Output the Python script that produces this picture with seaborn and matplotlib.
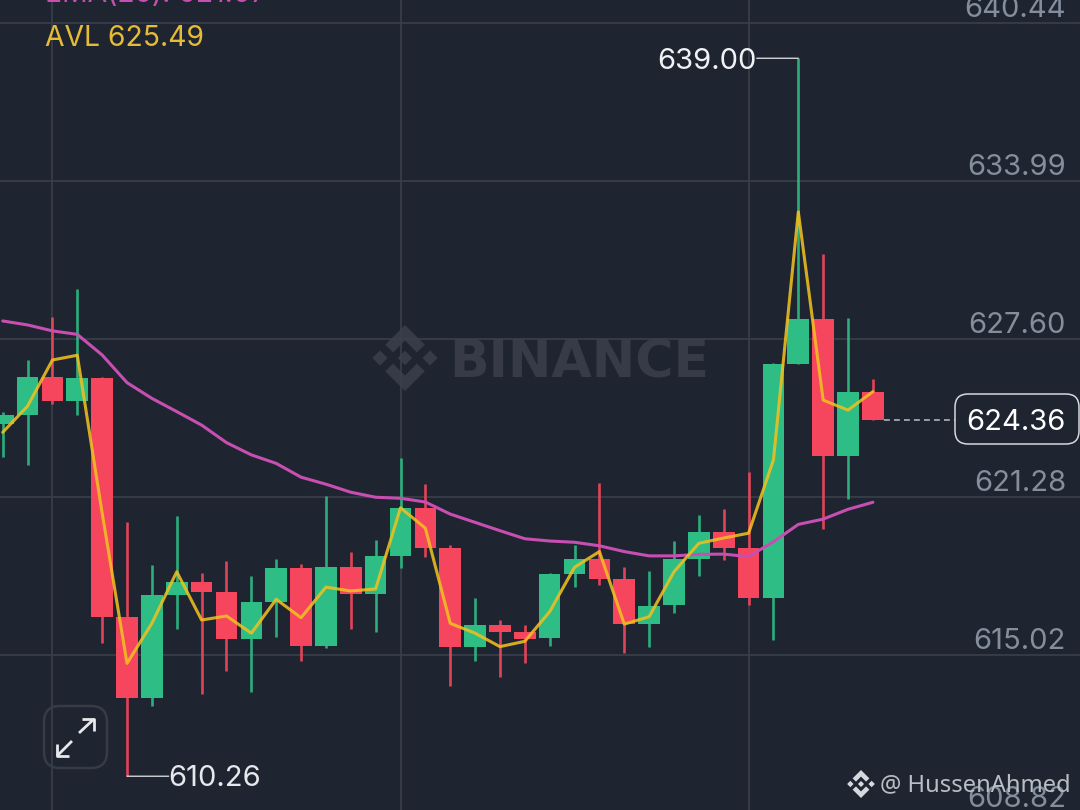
import numpy as np
import pandas as pd
import seaborn as sns
import matplotlib
matplotlib.use("Agg")
import matplotlib.pyplot as plt
from matplotlib.patches import FancyBboxPatch, Polygon
from matplotlib.transforms import Affine2D

# candle values
opens = [624.19, 624.57, 626.06, 625.13, 626.04, 616.53, 613.33, 617.39, 617.89, 617.49, 615.64, 617.10,
         618.45, 615.38, 618.49, 617.43, 618.92, 620.83, 619.24, 615.34, 616.19, 615.91, 615.68, 618.22,
         618.83, 618.02, 616.23, 616.98, 618.81, 619.88, 619.26, 617.28, 626.58, 628.41, 622.91, 625.48]
closes = [624.56, 626.06, 625.13, 626.04, 616.53, 613.33, 617.39, 617.89, 617.50, 615.64, 617.10, 618.45,
          615.38, 618.49, 617.43, 618.92, 620.83, 619.25, 615.34, 616.19, 615.91, 615.65, 618.22, 618.83,
          618.03, 616.23, 616.95, 618.81, 619.88, 619.26, 617.28, 626.58, 628.41, 622.91, 625.48, 624.36]
highs = [624.67, 626.76, 628.49, 629.62, 626.08, 620.28, 618.58, 620.53, 618.26, 618.75, 618.14, 618.83,
         618.62, 621.30, 619.09, 619.57, 622.85, 621.80, 619.36, 617.26, 616.39, 616.20, 618.27, 619.37,
         621.83, 618.50, 618.35, 619.54, 620.57, 620.79, 622.27, 626.65, 639.00, 631.02, 628.46, 626.01]
lows = [622.87, 622.55, 625.00, 624.56, 615.49, 610.26, 613.02, 616.04, 613.49, 614.39, 613.58, 615.74,
        614.80, 615.28, 616.04, 615.93, 618.45, 618.90, 613.80, 614.80, 614.16, 614.72, 615.38, 617.72,
        617.78, 615.11, 615.32, 616.69, 618.15, 618.79, 617.00, 615.61, 626.58, 620.00, 621.20, 624.36]
avl = [623.86, 624.91, 626.76, 626.95, 620.64, 614.69, 616.27, 618.31, 616.40, 616.56, 615.88, 617.22,
       616.49, 617.70, 617.55, 617.63, 620.85, 620.04, 616.27, 615.88, 615.35, 615.56, 616.73, 618.49,
       619.11, 616.24, 616.53, 618.31, 619.44, 619.65, 619.84, 622.76, 632.74, 625.15, 624.75, 625.49]
ema = [628.33, 628.17, 627.93, 627.79, 626.96, 625.85, 625.22, 624.69, 624.15, 623.45, 622.96, 622.62,
       622.07, 621.79, 621.47, 621.27, 621.23, 621.08, 620.60, 620.27, 619.94, 619.62, 619.53, 619.48,
       619.34, 619.11, 618.94, 618.94, 619.00, 619.01, 618.91, 619.50, 620.19, 620.40, 620.79, 621.07]
price_ticks = [640.44, 633.99, 627.60, 621.28, 615.02, 608.82]
time_ticks = [2, 16, 30]

BG = "#1e2530"
GRID = "#3a3f4a"
GREEN = "#2ebd85"
RED = "#f6465d"
YELLOW = "#f0c020"
MAGENTA = "#c84fb2"
TICK = "#848e9c"
MARK = "#363b47"

sns.set_theme(style="dark", rc={"axes.facecolor": BG, "figure.facecolor": BG})
plt.rcParams["font.family"] = ["Inter", "DejaVu Sans"]

df = pd.DataFrame({"i": range(len(opens)), "open": opens, "close": closes, "high": highs,
                   "low": lows, "avl": avl, "ema": ema})
df["up"] = df["close"] >= df["open"]
df["color"] = np.where(df["up"], GREEN, RED)
df["top"] = df[["open", "close"]].max(axis=1)
df["bot"] = df[["open", "close"]].min(axis=1)

fig = plt.figure(figsize=(10.8, 8.1), dpi=100)
ax = fig.add_axes([0, 0, 1, 1])
ax.set_yscale("log")

# pixel coords from top left, for the bits that sit on the screen and not on the chart
px = Affine2D().scale(1, -1).translate(0, 810)


def draw_logo(cx, cy, r, color, z):
    shapes = [
        [(0, .22), (.22, 0), (0, -.22), (-.22, 0)],
        [(-.76, .23), (-.53, 0), (-.76, -.23), (-.99, 0)],
        [(.76, .23), (.99, 0), (.76, -.23), (.53, 0)],
        [(0, 1), (.6, .4), (.36, .17), (0, .53), (-.36, .17), (-.6, .4)],
        [(0, -1), (.6, -.4), (.36, -.17), (0, -.53), (-.36, -.17), (-.6, -.4)],
    ]
    for s in shapes:
        pts = [(cx + a * r, cy - b * r) for a, b in s]
        ax.add_patch(Polygon(pts, closed=True, fc=color, ec="none", transform=px, zorder=z))


# watermark
draw_logo(405, 358, 33, MARK, 0.4)
ax.text(449, 364, "BINANCE", transform=px, family="DejaVu Sans", fontweight="bold", fontsize=37.5,
        color=MARK, va="center", ha="left", zorder=0.4)

# candles
ax.vlines(df["i"], df["low"], df["high"], colors=df["color"], linewidth=1.9, alpha=0.9, zorder=2)
ax.bar(df["i"], df["top"] - df["bot"], bottom=df["bot"], width=0.87, color=df["color"], linewidth=0, zorder=3)

sns.lineplot(data=df, x="i", y="ema", color=MAGENTA, linewidth=2.2, ax=ax, zorder=4, errorbar=None)
sns.lineplot(data=df, x="i", y="avl", color=YELLOW, linewidth=2.2, alpha=0.88, ax=ax, zorder=5, errorbar=None)

ax.set_xticks(time_ticks)
ax.set_yticks(price_ticks)
ax.minorticks_off()
ax.set_xlim(-0.109, 43.33)
ax.set_ylim(608.94, 641.39)  # after set_yticks, it widens the view otherwise
ax.tick_params(length=0, labelbottom=False, labelleft=False)
ax.set_xlabel("")
ax.set_ylabel("")
ax.grid(True, color=GRID, linewidth=1.2)
ax.set_axisbelow(True)
for s in ax.spines.values():
    s.set_visible(False)

# price labels sit above their grid line
for p in price_ticks:
    ax.annotate(f"{p:.2f}", xy=(1, p), xycoords=("axes fraction", "data"), xytext=(-10, 9.5),
                textcoords="offset points", ha="right", va="center", fontsize=21, color=TICK, zorder=6)

# high and low callouts
i_hi = int(np.argmax(highs))
i_lo = int(np.argmin(lows))
ax.annotate(f"{highs[i_hi]:.2f}", xy=(i_hi, highs[i_hi]), xytext=(-30, -2), textcoords="offset points",
            ha="right", va="center", fontsize=21, color="#f0f2f5", zorder=7)
ax.annotate("", xy=(i_hi, highs[i_hi]), xytext=(-30, 0), textcoords="offset points",
            arrowprops=dict(arrowstyle="-", color="#e6e8ec", lw=0.9, shrinkA=0, shrinkB=0), zorder=7)
ax.annotate(f"{lows[i_lo]:.2f}", xy=(i_lo, lows[i_lo]), xytext=(30, -2), textcoords="offset points",
            ha="left", va="center", fontsize=21, color="#e6e8ec", zorder=7)
ax.annotate("", xy=(i_lo, lows[i_lo]), xytext=(30, 0), textcoords="offset points",
            arrowprops=dict(arrowstyle="-", color="#e6e8ec", lw=0.9, shrinkA=0, shrinkB=0), zorder=7)

# last price
ax.hlines(closes[-1], 35.44, 38.3, colors="#aeb4bc", linewidth=1.2, linestyles=(0, (3.5, 2.5)), zorder=4)
ax.add_patch(FancyBboxPatch((962, 401), 110, 36, boxstyle="round,pad=7,rounding_size=13", fc=BG, ec="#d5d8dd",
                            lw=1.1, transform=px, zorder=7))
ax.text(1066, 422, f"{closes[-1]:.2f}", transform=px, ha="right", va="center", fontsize=21, color="#ffffff", zorder=8)

# legend text at the top, first line is cut by the screen
ax.text(45, -6, f"EMA(25): {ema[-1]:.2f}", transform=px, ha="left", va="center", fontsize=20.4, color=MAGENTA, clip_on=False)
ax.text(45, 38, f"AVL {avl[-1]:.2f}", transform=px, ha="left", va="center", fontsize=20.4, color="#e6bb35")

# expand button
ax.add_patch(FancyBboxPatch((56, 718), 39, 38, boxstyle="round,pad=12,rounding_size=16", fc="none", ec="#363b46",
                            lw=1.8, transform=px, zorder=6))
for xs, ys in [((79, 94), (733, 719)), ((82, 94, 94), (719, 719, 731)),
               ((72, 57), (741, 756)), ((57, 57, 69), (744, 756, 756))]:
    ax.plot(xs, ys, color="#e6e8ec", lw=2, transform=px, zorder=7, solid_capstyle="butt")

# username watermark
draw_logo(861, 784, 14, "#d5d8dd", 8)
ax.text(880, 785, "@ HussenAhmed", transform=px, family="Noto Sans", ha="left", va="center",
        fontsize=17.1, color="#b9bdc4", zorder=8)

fig.savefig("out.png", dpi=100, facecolor=BG)
